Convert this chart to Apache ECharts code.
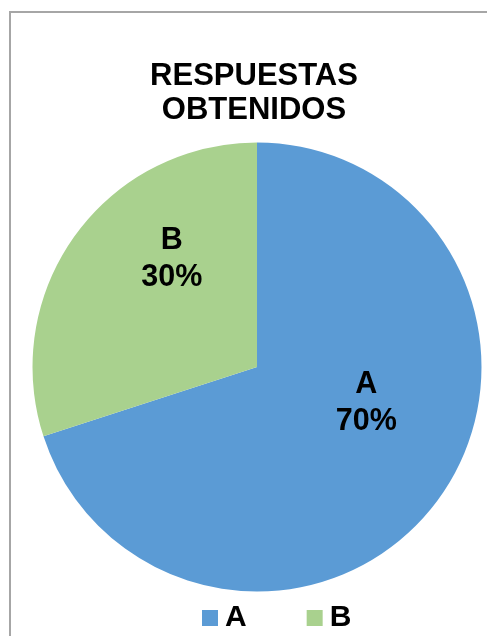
<!DOCTYPE html>
<html>
<head>
<meta charset="utf-8">
<script src="https://cdn.jsdelivr.net/npm/echarts@6/dist/echarts.min.js"></script>
<style>
  html, body { margin: 0; padding: 0; background: #fff; }
  #chart { width: 487px; height: 636px; }
</style>
</head>
<body>
<div id="chart"></div>
<script>
// Survey answers
const categories = ['A', 'B'];
const values = [70, 30];
const titleText = 'RESPUESTAS\nOBTENIDOS';

const sliceColors = ['#5B9BD5', '#A9D18E'];
// nudges the in-slice labels toward where they sit in the printed report
const labelNudges = [[16, -32], [8, -40]];

const chart = echarts.init(document.getElementById('chart'), null, { renderer: 'canvas' });

const fontFamily = '"Liberation Sans", Arial, sans-serif';

chart.setOption({
  animation: false,
  backgroundColor: '#ffffff',
  graphic: [{
    type: 'rect',
    shape: { x: 10, y: 12, width: 700, height: 800 },
    style: { fill: 'none', stroke: '#A6A6A6', lineWidth: 2 },
    silent: true,
    z: -1
  }],
  title: {
    text: titleText,
    left: 249,
    top: 54,
    textAlign: 'center',
    textStyle: {
      fontFamily: fontFamily,
      fontSize: 31,
      fontWeight: 'bold',
      color: '#000',
      lineHeight: 34
    }
  },
  legend: {
    data: categories,
    left: 202,
    top: 603,
    padding: 0,
    icon: 'rect',
    itemWidth: 16,
    itemHeight: 16,
    itemGap: 60,
    textStyle: {
      fontFamily: fontFamily,
      fontSize: 30,
      fontWeight: 'bold',
      color: '#000',
      padding: [0, 0, 0, 2]
    }
  },
  series: [{
    type: 'pie',
    center: [257, 367],
    radius: [0, 224.5],
    startAngle: 90,
    clockwise: true,
    avoidLabelOverlap: false,
    itemStyle: { borderWidth: 0 },
    label: {
      show: true,
      position: 'inside',
      formatter: '{b}\n{d}%',
      fontFamily: fontFamily,
      fontSize: 30.5,
      fontWeight: 'bold',
      color: '#000',
      lineHeight: 37
    },
    labelLine: { show: false },
    emphasis: { disabled: true },
    data: categories.map((name, i) => ({
      name: name,
      value: values[i],
      itemStyle: { color: sliceColors[i] },
      label: { offset: labelNudges[i] }
    }))
  }]
});
</script>
</body>
</html>
